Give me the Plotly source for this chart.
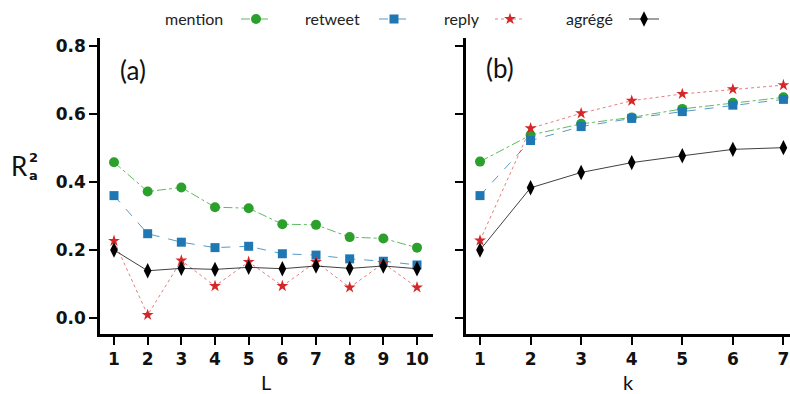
import plotly.graph_objects as go

L_vals = [1, 2, 3, 4, 5, 6, 7, 8, 9, 10]
k_vals = [1, 2, 3, 4, 5, 6, 7]

mention_L = [0.458, 0.372, 0.384, 0.326, 0.323, 0.276, 0.274, 0.238, 0.234, 0.207]
retweet_L = [0.360, 0.248, 0.223, 0.207, 0.211, 0.189, 0.185, 0.174, 0.167, 0.156]
reply_L = [0.227, 0.009, 0.169, 0.094, 0.165, 0.094, 0.165, 0.090, 0.161, 0.090]
agrege_L = [0.200, 0.139, 0.146, 0.143, 0.149, 0.145, 0.153, 0.146, 0.153, 0.145]

mention_k = [0.460, 0.538, 0.571, 0.590, 0.615, 0.633, 0.649]
retweet_k = [0.360, 0.522, 0.563, 0.587, 0.607, 0.626, 0.643]
reply_k = [0.228, 0.558, 0.602, 0.639, 0.659, 0.673, 0.685]
agrege_k = [0.200, 0.383, 0.428, 0.457, 0.477, 0.496, 0.501]

series_names = ["mention", "retweet", "reply", "agrégé"]
x_titles = ["L", "k"]
y_ticks = [0.0, 0.2, 0.4, 0.6, 0.8]
y_ticktext = ["0.0", "0.2", "0.4", "0.6", "0.8"]

styles = [
    dict(color="#2ca02c", line="rgba(44,160,44,0.75)", dash="dashdot", symbol="circle", size=10),
    dict(color="#1f77b4", line="rgba(31,119,180,0.75)", dash="dash", symbol="square", size=9),
    dict(color="#d62728", line="rgba(214,39,40,0.6)", dash="dot", symbol="star", size=9),
    dict(color="#000000", line="rgba(0,0,0,0.75)", dash="solid", symbol="diamond-tall", size=11),
]

fig = go.Figure()
left_data = [mention_L, retweet_L, reply_L, agrege_L]
right_data = [mention_k, retweet_k, reply_k, agrege_k]
legend_ids = ["legend", "legend2", "legend3", "legend4"]

for i, (name, st) in enumerate(zip(series_names, styles)):
    fig.add_trace(go.Scatter(
        x=L_vals, y=left_data[i], mode="lines+markers", name="",
        line=dict(color=st["line"], dash=st["dash"], width=1),
        marker=dict(symbol=st["symbol"], size=st["size"], color=st["color"], line=dict(width=0)),
        xaxis="x", yaxis="y", legend=legend_ids[i], showlegend=True,
    ))
    fig.add_trace(go.Scatter(
        x=k_vals, y=right_data[i], mode="lines+markers", name=name,
        line=dict(color=st["line"], dash=st["dash"], width=1),
        marker=dict(symbol=st["symbol"], size=st["size"], color=st["color"], line=dict(width=0)),
        xaxis="x2", yaxis="y2", showlegend=False,
    ))

ML, MR, MT, MB = 100, 0, 38, 60
W, H = 790, 394
pw = W - ML - MR
ph = H - MT - MB

def px_x(p):
    return (p - ML) / pw

def px_y(p):
    return 1 - (p - MT) / ph

tickfont = dict(family="DejaVu Sans", size=17, color="#111", weight="bold")
axis_common = dict(showline=True, linecolor="black", linewidth=2.5, ticks="outside",
                   ticklen=8, tickwidth=2, tickcolor="black", showgrid=False, zeroline=False,
                   tickfont=tickfont, automargin=False)

legend_sym_x = [242, 380, 496, 630]
legend_text_right = [225, 362, 482, 615]
layout_legends = {}
for i, lid in enumerate(legend_ids):
    layout_legends[lid] = dict(
        x=px_x(legend_sym_x[i] - 6), y=px_y(19), xanchor="left", yanchor="middle",
        orientation="h", bgcolor="rgba(0,0,0,0)", borderwidth=0,
        font=dict(size=1), itemwidth=30, tracegroupgap=0,
    )

annotations = []
for i, name in enumerate(series_names):
    annotations.append(dict(
        x=px_x(legend_text_right[i]), y=px_y(19), xref="paper", yref="paper",
        text=name, showarrow=False, xanchor="right", yanchor="middle",
        font=dict(family="Lato", size=16, color="#222"),
    ))

annotations += [
    dict(x=px_x(133), y=px_y(70), xref="paper", yref="paper", text="(a)", showarrow=False,
         font=dict(family="Lato", size=26, color="#111"), xanchor="center", yanchor="middle"),
    dict(x=px_x(500), y=px_y(68), xref="paper", yref="paper", text="(b)", showarrow=False,
         font=dict(family="Lato", size=26, color="#111"), xanchor="center", yanchor="middle"),
    dict(x=px_x(19), y=px_y(166), xref="paper", yref="paper", text="R", showarrow=False,
         font=dict(family="Lato", size=26, color="#111"), xanchor="center", yanchor="middle"),
    dict(x=px_x(33), y=px_y(157), xref="paper", yref="paper", text="<b>2</b>", showarrow=False,
         font=dict(family="DejaVu Sans", size=13, color="#111"), xanchor="center", yanchor="middle"),
    dict(x=px_x(33), y=px_y(175), xref="paper", yref="paper", text="<b>a</b>", showarrow=False,
         font=dict(family="DejaVu Sans", size=13, color="#111"), xanchor="center", yanchor="middle"),
    dict(x=px_x(266), y=px_y(381.5), xref="paper", yref="paper", text=x_titles[0], showarrow=False,
         font=dict(family="Lato", size=20, color="#111"), xanchor="center", yanchor="middle",
         borderpad=0),
    dict(x=px_x(628), y=px_y(381.5), xref="paper", yref="paper", text=x_titles[1], showarrow=False,
         font=dict(family="Lato", size=20, color="#111"), xanchor="center", yanchor="middle",
         borderpad=0),
]

fig.update_layout(
    width=W, height=H, margin=dict(l=ML, r=MR, t=MT, b=MB, autoexpand=False),
    paper_bgcolor="white", plot_bgcolor="white",
    xaxis=dict(domain=[0, 333 / pw], range=[0.584, 10.475], tickvals=L_vals, **axis_common),
    yaxis=dict(domain=[0, 1], range=[-0.047, 0.8235], tickvals=y_ticks, ticktext=y_ticktext,
               **axis_common),
    xaxis2=dict(domain=[366 / pw, 1], range=[0.723, 7.13], tickvals=k_vals, anchor="y2",
                **axis_common),
    yaxis2=dict(domain=[0, 1], range=[-0.047, 0.8235], tickvals=y_ticks, showticklabels=False,
                anchor="x2", **axis_common),
    annotations=annotations,
    **layout_legends,
)

fig.write_html("out.html")
